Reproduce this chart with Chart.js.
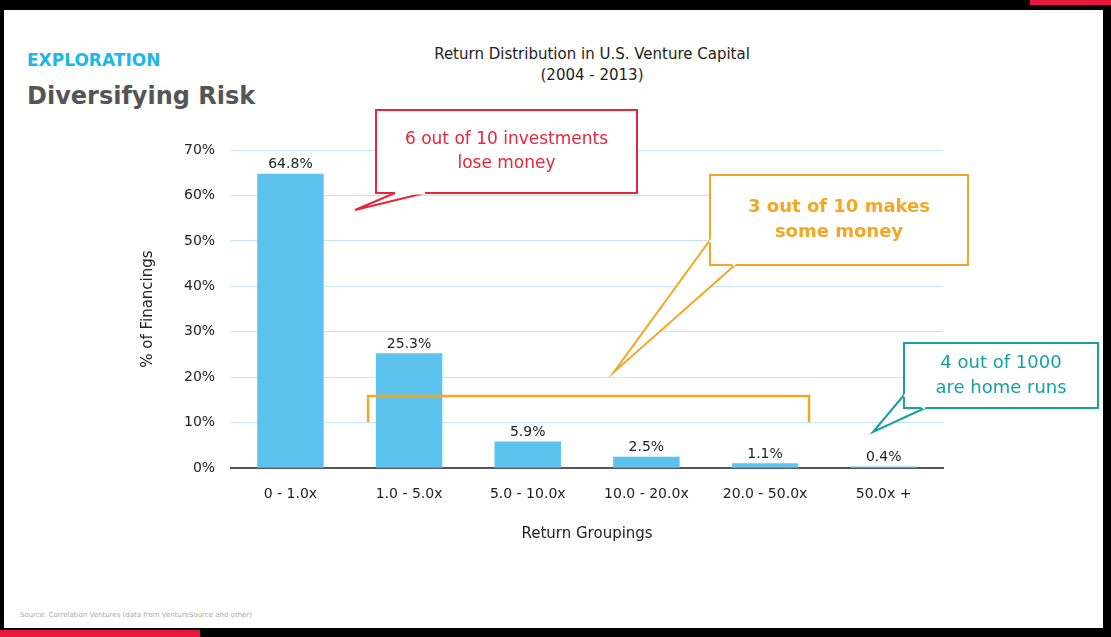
<!DOCTYPE html>
<html><head><meta charset="utf-8">
<script src="https://cdn.jsdelivr.net/npm/chart.js@4"></script>
<style>
html,body{margin:0;padding:0;width:1111px;height:637px;overflow:hidden;background:#000;font-family:"DejaVu Sans",sans-serif}
#slide{position:absolute;left:4px;top:10px;width:1099px;height:618px;background:#fff}
#topred{position:absolute;left:1030px;top:0;width:81px;height:5px;background:#e8173f}
#botred{position:absolute;left:0;top:630px;width:200px;height:7px;background:#e8173f}
.t{position:absolute;white-space:nowrap}
#wrap{position:absolute;left:0;top:0;width:1111px;height:637px}
</style></head><body>
<div id="slide"></div><div id="topred"></div><div id="botred"></div>
<div class="t" style="left:27px;top:50px;font:bold 17px 'DejaVu Sans';color:#1ab7e8">EXPLORATION</div>
<div class="t" style="left:27px;top:82px;font:bold 24px 'DejaVu Sans';color:#555">Diversifying Risk</div>
<div class="t" style="left:20px;top:611px;font:7px 'DejaVu Sans';color:#aaa">Source: Correlation Ventures (data from VentureSource and other)</div>
<div class="t" style="left:392px;top:44px;width:400px;text-align:center;font:15px 'DejaVu Sans';color:#222;line-height:21px">Return Distribution in U.S. Venture Capital<br>(2004 - 2013)</div>
<div id="wrap"><canvas id="c" width="1111" height="637"></canvas></div>
<script>
const categories=["0 - 1.0x","1.0 - 5.0x","5.0 - 10.0x","10.0 - 20.0x","20.0 - 50.0x","50.0x +"];
const values=[64.8,25.3,5.9,2.5,1.1,0.4];
const valueLabels=["64.8%","25.3%","5.9%","2.5%","1.1%","0.4%"];
const yTicks=[0,10,20,30,40,50,60,70];
const F='"DejaVu Sans"';
function callout(ctx,x,y,w,h,tail,color,lines,fontSize,bold){
  ctx.save();ctx.strokeStyle=color;ctx.lineWidth=2;ctx.fillStyle='#fff';
  ctx.beginPath();
  ctx.moveTo(tail[0][0],tail[0][1]);ctx.lineTo(tail[1][0],tail[1][1]);ctx.lineTo(tail[2][0],tail[2][1]);
  ctx.fill();ctx.stroke();
  ctx.fillRect(x,y,w,h);ctx.strokeRect(x,y,w,h);
  ctx.beginPath();ctx.moveTo(tail[0][0],tail[0][1]);ctx.lineTo(tail[2][0],tail[2][1]);
  ctx.strokeStyle='#fff';ctx.lineWidth=3;ctx.stroke();
  ctx.fillStyle=color;ctx.font=(bold?'bold ':'')+fontSize+'px '+F;
  ctx.textAlign='center';ctx.textBaseline='middle';
  const lh=fontSize*1.4, cy=y+h/2-(lines.length-1)*lh/2;
  lines.forEach((l,i)=>ctx.fillText(l,x+w/2,cy+i*lh));
  ctx.restore();
}
const deco={id:'deco',afterDraw(ch){
  const ctx=ch.ctx,xs=ch.scales.x,ys=ch.scales.y;
  ctx.save();ctx.fillStyle='#222';ctx.font='14px '+F;ctx.textAlign='center';ctx.textBaseline='bottom';
  values.forEach((v,i)=>ctx.fillText(valueLabels[i],xs.getPixelForValue(i),ys.getPixelForValue(v)-2));
  ctx.restore();
  ctx.save();ctx.strokeStyle='#f5a623';ctx.lineWidth=2.5;ctx.beginPath();
  const bx1=xs.getPixelForValue(1)-41,bx2=xs.getPixelForValue(4)+44;
  ctx.moveTo(bx1,422);ctx.lineTo(bx1,396);ctx.lineTo(bx2,396);ctx.lineTo(bx2,422);ctx.stroke();ctx.restore();
  callout(ctx,376,110,261,83,[[395,193],[355,210],[425,193]],'#e8263a',['6 out of 10 investments','lose money'],17,false);
  callout(ctx,710,175,258,90,[[710,240],[614,372],[735,265]],'#f5a623',['3 out of 10 makes','some money'],18,true);
  callout(ctx,904,343,194,65,[[904,395],[873,432],[925,408]],'#17a0a0',['4 out of 1000','are home runs'],18,false);
}};
new Chart(document.getElementById('c'),{type:'bar',
 data:{labels:categories,datasets:[{data:values,backgroundColor:'#5bc3ee',barPercentage:0.56,categoryPercentage:1}]},
 options:{responsive:false,animation:false,
  layout:{padding:{left:135,right:168,top:150,bottom:90}},
  plugins:{legend:{display:false},tooltip:{enabled:false}},
  scales:{
   x:{grid:{display:false,drawTicks:false},border:{color:'#555',width:2},
      ticks:{color:'#222',font:{size:14,family:'DejaVu Sans'},padding:18},
      title:{display:true,text:'Return Groupings',color:'#222',font:{size:15,family:'DejaVu Sans'},padding:{top:4}}},
   y:{min:0,max:70,afterBuildTicks:a=>{a.ticks=yTicks.map(v=>({value:v}))},
      grid:{color:'#c4e4ef',drawTicks:false},border:{display:false},
      ticks:{color:'#222',font:{size:14,family:'DejaVu Sans'},padding:16,callback:v=>v+'%'},
      title:{display:true,text:'% of Financings',color:'#222',font:{size:15,family:'DejaVu Sans'},padding:{bottom:11}}}
  }},
 plugins:[deco]});
</script></body></html>
